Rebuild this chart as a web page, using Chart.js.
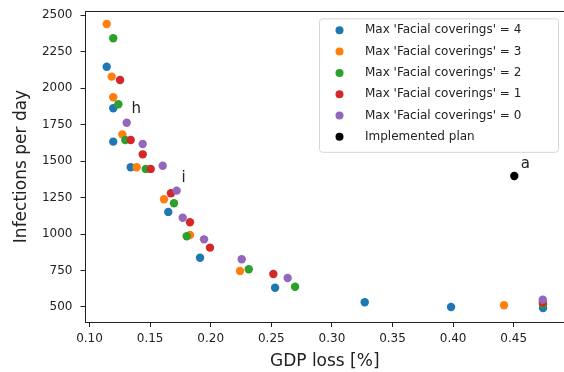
<!DOCTYPE html>
<html>
<head>
<meta charset="utf-8">
<script src="https://cdn.jsdelivr.net/npm/chart.js@4/dist/chart.umd.min.js"></script>
<style>
  body { margin: 0; background: #fff; }
</style>
</head>
<body>
<canvas id="myChart" width="564" height="372"></canvas>
<script>
// ticks dos eixos
const xTicks = [0.10, 0.15, 0.20, 0.25, 0.30, 0.35, 0.40, 0.45];
const yTicks = [500, 750, 1000, 1250, 1500, 1750, 2000, 2250, 2500];

const serieLabels = [
  "Max 'Facial coverings' = 4",
  "Max 'Facial coverings' = 3",
  "Max 'Facial coverings' = 2",
  "Max 'Facial coverings' = 1",
  "Max 'Facial coverings' = 0",
  'Implemented plan'
];
const serieColors = ['#1f77b4', '#ff7f0e', '#2ca02c', '#d62728', '#9467bd', '#000000'];

// GDP loss (x) e infections per day (y) de cada serie
const gdp4 = [0.1142, 0.1196, 0.1196, 0.1340, 0.1650, 0.1912, 0.2531, 0.3271, 0.3983, 0.4742];
const inf4 = [2148, 1863, 1634, 1458, 1152, 838, 632, 532, 500, 493];
const gdp3 = [0.1142, 0.1183, 0.1196, 0.1271, 0.1389, 0.1615, 0.1829, 0.2242, 0.4420];
const inf3 = [2441, 2080, 1938, 1684, 1458, 1239, 994, 747, 512];
const gdp2 = [0.1196, 0.1238, 0.1295, 0.1464, 0.1697, 0.1802, 0.2314, 0.2696, 0.4742];
const inf2 = [2343, 1890, 1645, 1447, 1211, 985, 759, 639, 518];
const gdp1 = [0.1252, 0.1340, 0.1439, 0.1505, 0.1672, 0.1829, 0.1994, 0.2517, 0.4740];
const inf1 = [2057, 1645, 1547, 1447, 1280, 1081, 907, 726, 531];
const gdp0 = [0.1307, 0.1439, 0.1604, 0.1719, 0.1769, 0.1945, 0.2256, 0.2635, 0.4740];
const inf0 = [1764, 1618, 1469, 1298, 1112, 964, 827, 699, 550];
const gdpPlan = [0.4505];
const infPlan = [1398];

// anotacoes de texto
const annotTexts = ['h', 'i', 'a'];
const annotX = [0.1347, 0.1759, 0.4559];
const annotY = [1828, 1355, 1451];

const allX = [gdp4, gdp3, gdp2, gdp1, gdp0, gdpPlan];
const allY = [inf4, inf3, inf2, inf1, inf0, infPlan];

const datasets = serieLabels.map(function (label, i) {
  return {
    label: label,
    data: allX[i].map((x, j) => ({ x: x, y: allY[i][j] })),
    backgroundColor: serieColors[i],
    borderWidth: 0,
    pointRadius: 4.2,
    // matplotlib desenha a ultima serie por cima
    order: serieLabels.length - 1 - i
  };
});

const moldura = {
  id: 'moldura',
  afterDraw(chart) {
    const c = chart.ctx;
    const a = chart.chartArea;
    const sx = chart.scales.x;
    const sy = chart.scales.y;
    c.save();
    // linha de cima
    c.strokeStyle = '#222';
    c.lineWidth = 1;
    c.beginPath();
    c.moveTo(a.left, a.top + 0.5);
    c.lineTo(a.right, a.top + 0.5);
    c.stroke();

    // anotacoes
    c.fillStyle = '#222';
    c.font = '15px "DejaVu Sans"';
    c.textAlign = 'left';
    c.textBaseline = 'alphabetic';
    annotTexts.forEach(function (t, i) {
      c.fillText(t, sx.getPixelForValue(annotX[i]), sy.getPixelForValue(annotY[i]));
    });

    // legenda
    const bw = 239, bh = 133.5;
    const bx = a.right - 6 - bw;
    const by = a.top + 7.3;
    c.beginPath();
    c.roundRect(bx + 0.5, by + 0.5, bw, bh, 3);
    c.fillStyle = 'rgba(255,255,255,0.8)';
    c.fill();
    c.strokeStyle = '#d6d6d6';
    c.stroke();
    c.font = '12px "DejaVu Sans"';
    c.textBaseline = 'middle';
    serieLabels.forEach(function (label, i) {
      const ry = by + 12 + i * 21.3;
      c.beginPath();
      c.arc(bx + 20.5, ry, 4, 0, Math.PI * 2);
      c.fillStyle = serieColors[i];
      c.fill();
      c.fillStyle = '#222';
      c.fillText(label, bx + 46, ry);
    });
    c.restore();
  }
};

const ctx = document.getElementById('myChart');
new Chart(ctx, {
  type: 'scatter',
  data: { datasets: datasets },
  options: {
    responsive: false,
    devicePixelRatio: 1,
    animation: false,
    layout: { autoPadding: false, padding: { top: 11, right: 0, bottom: 0, left: 0 } },
    plugins: {
      legend: { display: false },
      tooltip: { enabled: false }
    },
    scales: {
      x: {
        type: 'linear',
        min: 0.0967,
        max: 0.4915,
        afterBuildTicks: function (s) { s.ticks = xTicks.map(v => ({ value: v })); },
        afterFit: function (s) { s.height = 50; s.paddingLeft = 0; s.paddingRight = 0; },
        grid: { drawOnChartArea: false, tickLength: 5, color: '#222' },
        border: { color: '#222' },
        ticks: {
          color: '#222',
          font: { family: 'DejaVu Sans', size: 12 },
          padding: 5,
          maxRotation: 0,
          callback: v => v.toFixed(2)
        },
        title: {
          display: true,
          text: 'GDP loss [%]',
          color: '#222',
          font: { family: 'DejaVu Sans', size: 17 },
          padding: 0
        }
      },
      y: {
        type: 'linear',
        min: 397,
        max: 2530,
        afterBuildTicks: function (s) { s.ticks = yTicks.map(v => ({ value: v })); },
        afterFit: function (s) { s.width = 85.5; s.paddingTop = 0; s.paddingBottom = 0; },
        grid: { drawOnChartArea: false, tickLength: 5, color: '#222' },
        border: { color: '#222' },
        ticks: {
          color: '#222',
          font: { family: 'DejaVu Sans', size: 12 },
          padding: 8,
          callback: v => String(v)
        },
        title: {
          display: true,
          text: 'Infections per day',
          color: '#222',
          font: { family: 'DejaVu Sans', size: 17 },
          padding: { top: 11, bottom: 0 }
        }
      }
    }
  },
  plugins: [moldura]
});
</script>
</body>
</html>
